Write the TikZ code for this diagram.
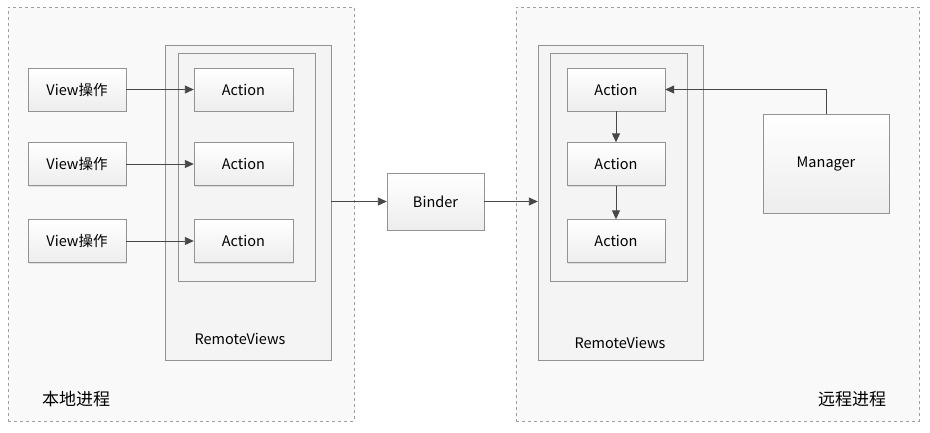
\documentclass[tikz,border=0pt]{standalone}
\usepackage{fontspec}
\setmainfont{Noto Sans CJK SC}
\usetikzlibrary{positioning,shadows,arrows.meta}

\tikzset{
	proc/.style={draw=gray!75, dashed, fill=gray!5},
	rvbox/.style={draw=gray!85, fill=gray!9},
	opbox/.style={draw=gray!85, top color=white, bottom color=gray!14,
		drop shadow={shadow xshift=1.2pt, shadow yshift=-1.2pt, fill=gray!45}},
	link/.style={draw=black!72, line width=0.9pt, -{Triangle[length=9pt,width=8pt]}}
}

\begin{document}
\begin{tikzpicture}[x=1pt, y=-1pt, font=\fontsize{14.5}{17}\selectfont]
	\useasboundingbox (0,0) rectangle (930,432);
	\fill[white] (0,0) rectangle (930,432);
	% the two processes
	\node[proc, minimum width=346pt, minimum height=414pt] (local) at (181,214) {};
	\node[proc, minimum width=403pt, minimum height=414pt] (remote) at (717.5,214) {};
	\node[font=\fontsize{17}{20}\selectfont] (locallabel) at (76,399) {本地进程};
	\node[font=\fontsize{17}{20}\selectfont] (remotelabel) at (852,399) {远程进程};
	% RemoteViews containers
	\node[rvbox, minimum width=166pt, minimum height=315pt] (rvL) at (248,202.5) {};
	\node[rvbox, minimum width=165pt, minimum height=315pt] (rvR) at (620.5,202.5) {};
	\node[rvbox, drop shadow={shadow xshift=1.2pt, shadow yshift=-1.2pt, fill=gray!35}, minimum width=137pt, minimum height=228pt] (inL) at (246.5,167) {};
	\node[rvbox, drop shadow={shadow xshift=1.2pt, shadow yshift=-1.2pt, fill=gray!35}, minimum width=137pt, minimum height=228pt] (inR) at (618.5,167) {};
	\node (rvLlabel) at (240,339) {RemoteViews};
	\node (rvRlabel) at (620,343) {RemoteViews};
	% views and actions
	\foreach \i/\y in {1/89.5, 2/164, 3/241} {
		\node[opbox, minimum width=98pt, minimum height=43pt] (view\i) at (77,\y) {View操作};
		\node[opbox, minimum width=99pt, minimum height=43pt] (actL\i) at (243.5,\y) {Action};
		\node[opbox, minimum width=98pt, minimum height=43pt] (actR\i) at (616,\y) {Action};
		\draw[link] (view\i) -- (actL\i);
	}
	\node[opbox, minimum width=97pt, minimum height=57pt] (binder) at (435.5,201.5) {Binder};
	\node[opbox, minimum width=126pt, minimum height=99pt] (manager) at (826,163.5) {Manager};
	% connectors
	\draw[link] (rvL.east |- binder) -- (binder);
	\draw[link] (binder) -- (rvR.west |- binder);
	\draw[link] (actR1) -- (actR2);
	\draw[link] (actR2) -- (actR3);
	\draw[link] (manager.north) |- (actR1.east);
\end{tikzpicture}
\end{document}
